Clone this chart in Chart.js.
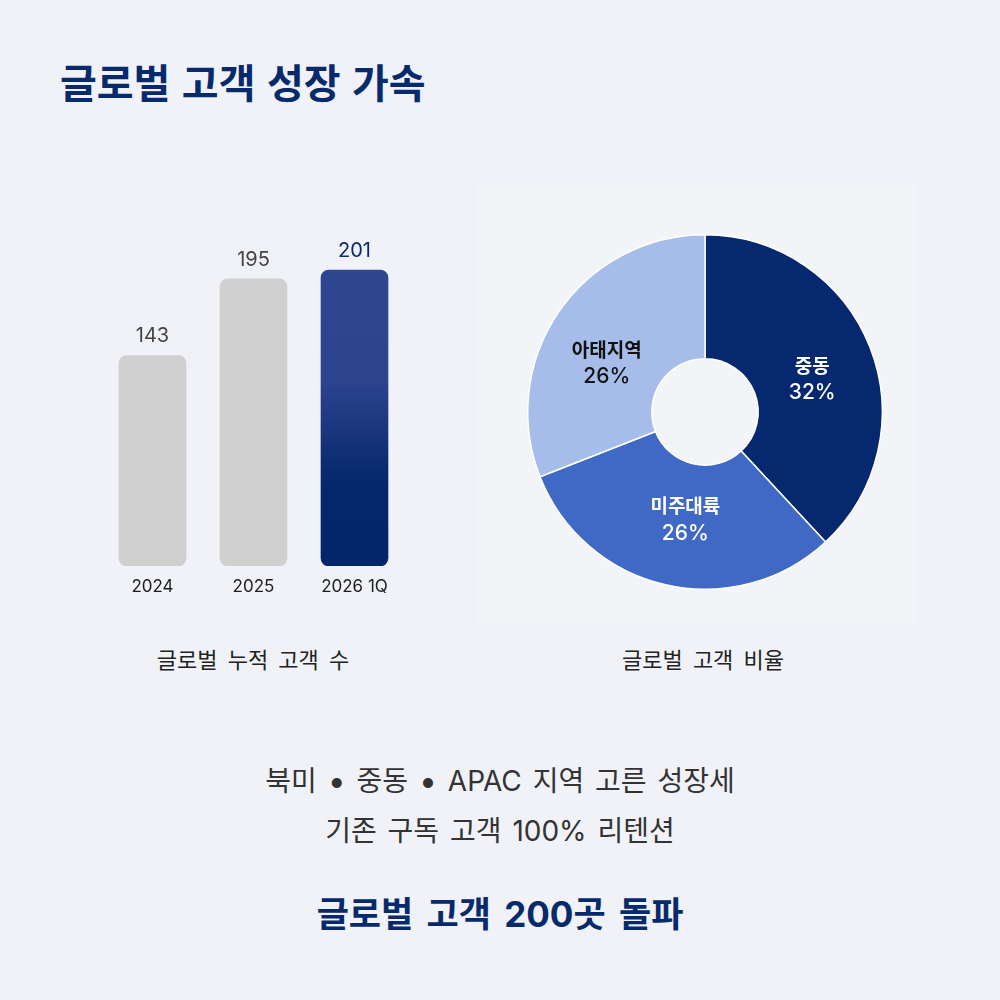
<!DOCTYPE html>
<html lang="ko">
<head>
<meta charset="utf-8">
<script src="https://cdn.jsdelivr.net/npm/chart.js@4.4.1/dist/chart.umd.min.js"></script>
<style>
  html, body { margin: 0; padding: 0; }
  body {
    width: 1000px; height: 1000px; position: relative; overflow: hidden;
    background: #f0f2f7;
    font-family: Inter, "Noto Sans CJK KR", "Noto Sans", sans-serif;
  }
  .title { position: absolute; left: 60px; top: 64px; font-size: 40px; font-weight: 700; color: #072a6c; line-height: 1; word-spacing: 2px; }
  #barBox { position: absolute; left: 100px; top: 200px; width: 310px; height: 420px; }
  #pieBox { position: absolute; left: 478px; top: 185px; width: 437px; height: 440px; background: #f3f4f8; }
  .cap { position: absolute; top: 649px; font-size: 22px; color: #222; width: 300px; text-align: center; line-height: 1; word-spacing: 4px; }
  .sub { position: absolute; left: 0; width: 1000px; text-align: center; font-size: 28px; color: #333; line-height: 1; word-spacing: 3px; }
  .dot { font-size: 32px; line-height: 0; position: relative; top: 1px; }
  .big { position: absolute; left: 0; width: 1000px; text-align: center; font-size: 35px; font-weight: 700; color: #072a6c; line-height: 1; word-spacing: 5px; }
</style>
</head>
<body>
<div class="title">글로벌 고객 성장 가속</div>
<div id="barBox"><canvas id="barChart"></canvas></div>
<div id="pieBox"><canvas id="pieChart"></canvas></div>
<div class="cap" style="left:103px">글로벌 누적 고객 수</div>
<div class="cap" style="left:553px">글로벌 고객 비율</div>
<div class="sub" style="top:767px">북미 <span class="dot">•</span> 중동 <span class="dot">•</span> APAC 지역 고른 성장세</div>
<div class="sub" style="top:817px">기존 구독 고객 100% 리텐션</div>
<div class="big" style="top:897px">글로벌 고객 200곳 돌파</div>

<script>
var barLabels = ['2024', '2025', '2026 1Q'];
var barValues = [143, 195, 201];
var barColors = ['#d0d0d0', '#d0d0d0', 'gradient'];
var barValueColors = ['#444444', '#444444', '#0a2a6e'];

var pieLabels = ['중동', '미주대륙', '아태지역'];
var pieValues = [32, 26, 26];
var pieColors = ['#06286f', '#3f69c5', '#a5bde8'];
var pieTextColors = ['#ffffff', '#ffffff', '#111111'];
var pieTextShift = [[0, 10], [6, -4], [-3, 17]];

var fontFam = 'Inter, "Noto Sans CJK KR", "Noto Sans", sans-serif';

function barFill(ctx) {
    var c = barColors[ctx.dataIndex];
    if (c != 'gradient') return c;
    var chart = ctx.chart;
    if (!chart.chartArea) return '#0a2a6e';
    var top = chart.scales.y.getPixelForValue(barValues[ctx.dataIndex]);
    var bottom = chart.scales.y.getPixelForValue(0);
    var g = chart.ctx.createLinearGradient(0, top, 0, bottom);
    g.addColorStop(0, '#2f4691');
    g.addColorStop(0.38, '#2c438e');
    g.addColorStop(0.72, '#05276c');
    g.addColorStop(1, '#03266b');
    return g;
}

// value on top and year under each bar
var barText = {
    id: 'barText',
    afterDatasetsDraw: function(chart) {
        var ctx = chart.ctx;
        var meta = chart.getDatasetMeta(0);
        var base = chart.scales.y.getPixelForValue(0);
        ctx.save();
        ctx.textAlign = 'center';
        ctx.textBaseline = 'middle';
        meta.data.forEach(function(bar, i) {
            ctx.fillStyle = barValueColors[i];
            ctx.font = '400 20px ' + fontFam;
            ctx.fillText(barValues[i], bar.x, bar.y - 19);
            ctx.fillStyle = '#1e1e1e';
            ctx.font = '400 17px ' + fontFam;
            ctx.fillText(barLabels[i], bar.x, base + 21);
        });
        ctx.restore();
    }
};

new Chart(document.getElementById('barChart'), {
    type: 'bar',
    data: {
        labels: barLabels,
        datasets: [{
            data: barValues,
            backgroundColor: barFill,
            borderRadius: 8,
            borderSkipped: false,
            barThickness: 67
        }]
    },
    options: {
        responsive: true,
        maintainAspectRatio: false,
        animation: false,
        layout: { padding: { left: 2, right: 5, top: 20, bottom: 54 } },
        plugins: { legend: { display: false }, tooltip: { enabled: false } },
        scales: {
            x: { display: false },
            y: { display: false, min: 0, max: 235 }
        }
    },
    plugins: [barText]
});

// name and percent in each slice
var pieText = {
    id: 'pieText',
    afterDatasetsDraw: function(chart) {
        var ctx = chart.ctx;
        var meta = chart.getDatasetMeta(0);
        ctx.save();
        ctx.textAlign = 'center';
        ctx.textBaseline = 'middle';
        meta.data.forEach(function(arc, i) {
            var p = arc.getCenterPoint();
            var x = p.x + pieTextShift[i][0];
            var y = p.y + pieTextShift[i][1];
            ctx.fillStyle = pieTextColors[i];
            ctx.font = '600 19px ' + fontFam;
            ctx.fillText(pieLabels[i], x, y - 13);
            ctx.font = '500 21px ' + fontFam;
            ctx.fillText(pieValues[i] + '%', x, y + 13);
        });
        ctx.restore();
    }
};

new Chart(document.getElementById('pieChart'), {
    type: 'doughnut',
    data: {
        labels: pieLabels,
        datasets: [{
            data: pieValues,
            backgroundColor: pieColors,
            borderColor: '#ffffff',
            borderWidth: 1.5
        }]
    },
    options: {
        responsive: true,
        maintainAspectRatio: false,
        animation: false,
        cutout: '30%',
        layout: { padding: { left: 49, right: 32, top: 49, bottom: 35 } },
        plugins: { legend: { display: false }, tooltip: { enabled: false } }
    },
    plugins: [pieText]
});
</script>
</body>
</html>
